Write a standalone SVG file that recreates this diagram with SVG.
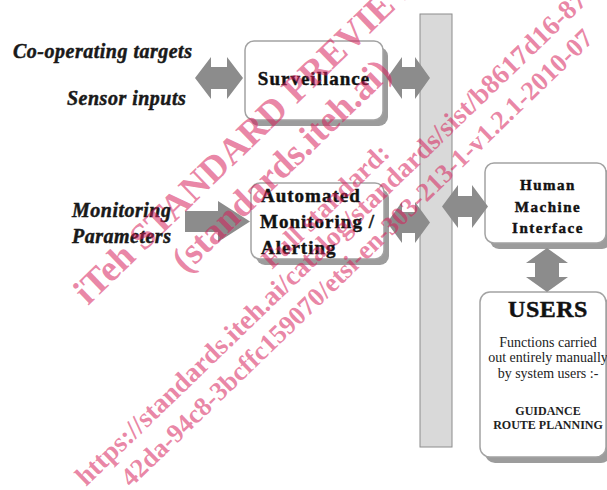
<svg xmlns="http://www.w3.org/2000/svg" width="607" height="490" viewBox="0 0 607 490">
  <style>
    text { font-family: "Liberation Serif", "Times New Roman", serif; }
    .box { fill: #ffffff; stroke: #a3a3a3; stroke-width: 1.5; }
    .shadow { fill: #9c9c9c; }
    .arrow { fill: #8c8c8c; }
    .bar { fill: #d9d9d9; stroke: #8c8c8c; stroke-width: 1; }
    .heavy { stroke: #151515; stroke-width: 0.45; }
    .lbl { font-weight: bold; font-style: italic; font-size: 20px; letter-spacing: 0.5px; fill: #1a1a1a; }
    .title { font-weight: bold; font-size: 19px; letter-spacing: 1px; fill: #111; }
    .hmi { font-weight: bold; font-size: 15px; letter-spacing: 1.5px; fill: #111; text-anchor: middle; }
    .users { font-weight: bold; font-size: 24px; letter-spacing: 0.5px; fill: #111; text-anchor: middle; }
    .body { font-size: 14px; fill: #222; text-anchor: middle; }
    .caps { font-weight: bold; font-size: 12px; fill: #222; text-anchor: middle; }
    .wm { font-weight: bold; fill: rgb(215,30,90); fill-opacity: 0.55; }
  </style>

  <!-- input labels -->
  <g id="labels">
    <text class="lbl heavy" x="13" y="58">Co-operating targets</text>
    <text class="lbl heavy" x="67" y="105">Sensor inputs</text>
    <text class="lbl heavy" x="72" y="217">Monitoring</text>
    <text class="lbl heavy" x="72" y="243">Parameters</text>
  </g>

  <!-- shared bus bar -->
  <g id="bus">
    <rect class="bar" x="420" y="14" width="32" height="433"/>
  </g>

  <g id="surveillance">
    <rect class="shadow" x="250" y="47" width="138" height="79" rx="9"/>
    <rect class="box" x="245" y="41" width="138" height="79" rx="9"/>
    <text class="title heavy" x="314" y="85" text-anchor="middle">Surveillance</text>
  </g>

  <g id="monitoring">
    <rect class="shadow" x="256" y="189" width="133" height="76" rx="9"/>
    <rect class="box" x="251" y="183" width="133" height="76" rx="9"/>
    <text class="title heavy" x="261" y="202">Automated</text>
    <text class="title heavy" x="260" y="228">Monitoring /</text>
    <text class="title heavy" x="261" y="254">Alerting</text>
  </g>

  <g id="hmi">
    <rect class="shadow" x="490" y="169" width="121" height="80" rx="9"/>
    <rect class="box" x="485" y="163" width="121" height="80" rx="9"/>
    <text class="hmi heavy" x="548" y="190">Human</text>
    <text class="hmi heavy" x="548" y="212">Machine</text>
    <text class="hmi heavy" x="548" y="233">Interface</text>
  </g>

  <g id="users">
    <rect class="shadow" x="485" y="298" width="126" height="165" rx="10"/>
    <rect class="box" x="480" y="292" width="126" height="165" rx="10"/>
    <text class="users heavy" x="548" y="317">USERS</text>
    <text class="body" x="548" y="347">Functions carried</text>
    <text class="body" x="548" y="362">out entirely manually</text>
    <text class="body" x="548" y="378">by system users :-</text>
    <text class="caps" x="548" y="415">GUIDANCE</text>
    <text class="caps" x="548" y="429">ROUTE PLANNING</text>
  </g>

  <!-- block arrows -->
  <g id="connectors">
    <path class="arrow" d="M195,78 L211,57 L211,67 L227,67 L227,57 L243,78 L227,99 L227,89 L211,89 L211,99 Z"/>
    <path class="arrow" d="M387,78 L402,57 L402,67 L415,67 L415,57 L430,78 L415,99 L415,89 L402,89 L402,99 Z"/>
    <path class="arrow" d="M185,211 L218,211 L218,201 L250,221.5 L218,242 L218,232 L185,232 Z"/>
    <path class="arrow" d="M387,222.5 L402,202 L402,212 L415,212 L415,202 L430,222.5 L415,243 L415,233 L402,233 L402,243 Z"/>
    <path class="arrow" d="M442,206.5 L458,185 L458,196 L472,196 L472,185 L488,206.5 L472,228 L472,217 L458,217 L458,228 Z"/>
    <path class="arrow" d="M547,248 L568,263 L559,263 L559,277 L568,277 L547,292 L526,277 L535,277 L535,263 L526,263 Z"/>
  </g>

  <!-- diagonal preview stamp -->
  <g id="stamp">
    <text class="wm" font-size="37" transform="translate(88,306) rotate(-44)">iTeh STANDARD PREVIEW</text>
    <text class="wm" font-size="37" transform="translate(186,274) rotate(-44)">(standards.iteh.ai)</text>
    <text class="wm" font-size="27" transform="translate(272,270) rotate(-44)">Full standard:</text>
    <text class="wm" font-size="27.5" transform="translate(86,487) rotate(-44)">https://standards.iteh.ai/catalog/standards/sist/b8617d16-87</text>
    <text class="wm" font-size="26.5" transform="translate(131,488) rotate(-44)">42da-94c8-3bcffc159070/etsi-en-303-213-1-v1.2.1-2010-07</text>
  </g>
</svg>
